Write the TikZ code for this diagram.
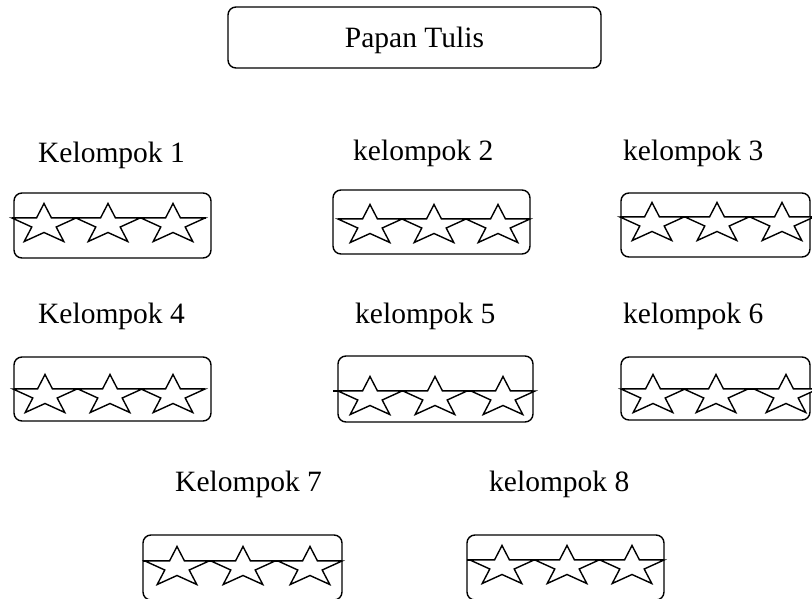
\documentclass[tikz,border=0pt]{standalone}
\usepackage{fontspec}
\setmainfont{Liberation Serif}
\begin{document}
\begin{tikzpicture}[x=1pt,y=-1pt,
  gbox/.style={draw, line width=1.4pt, rounded corners=8pt, inner sep=0pt, outer sep=0pt},
  grouplabel/.style={anchor=base west, inner sep=0pt, font=\fontsize{29.5pt}{32pt}\selectfont},
  starline/.style={line width=1.4pt, line join=miter},
  starpic/.pic={\filldraw[starline, fill=white] (0,-14.5) -- (7.5,0) -- (32,0) -- (12.2,9) -- (19.8,23.5)
      -- (0,14.5) -- (-19.8,23.5) -- (-12.2,9) -- (-32,0) -- (-7.5,0) -- cycle;}]
\useasboundingbox (0,0) rectangle (812,598);
\clip (0,0) rectangle (812,598);

% box: name, left, top, right, bottom
\newcommand\groupbox[5]{%
  \node[gbox, minimum width={#4pt-#2pt}, minimum height={#5pt-#3pt}] (#1) at ({(#2+#4)/2},{(#3+#5)/2}) {};}
% row of three stars on a line: line y, left end, right end, three centres
\newcommand\starrow[6]{%
  \draw[starline] (#2,#1) -- (#3,#1);
  \pic at (#4,#1) {starpic};
  \pic at (#5,#1) {starpic};
  \pic at (#6,#1) {starpic};}

% board
\node[gbox, minimum width=373pt, minimum height=61pt, text depth=0pt,
      font=\fontsize{29.5pt}{32pt}\selectfont] (papan) at (414.5,37.5) {Papan Tulis};

% row 1
\node[grouplabel] (l1) at (38,162) {Kelompok 1};
\node[grouplabel] (l2) at (353,160) {kelompok 2};
\node[grouplabel] (l3) at (623,160) {kelompok 3};
\groupbox{b1}{14}{193}{211}{258}
\groupbox{b2}{333}{190}{530}{254}
\groupbox{b3}{621}{193}{810}{257}
\starrow{218}{12}{206}{44}{108}{173}
\starrow{219}{338}{530}{370}{434}{498}
\starrow{217}{620}{812}{652}{717}{782}

% row 2
\node[grouplabel] (l4) at (38,323) {Kelompok 4};
\node[grouplabel] (l5) at (355,323) {kelompok 5};
\node[grouplabel] (l6) at (623,323) {kelompok 6};
\groupbox{b4}{14}{357}{211}{421}
\groupbox{b5}{338}{356}{533}{422}
\groupbox{b6}{621}{357}{810}{420}
\starrow{389}{14}{205}{45}{110}{173}
\starrow{391}{333}{533}{370}{435}{503}
\starrow{389}{622}{812}{653}{716}{786}

% row 3
\node[grouplabel] (l7) at (175,491) {Kelompok 7};
\node[grouplabel] (l8) at (489,491) {kelompok 8};
\groupbox{b7}{143}{535}{342}{600}
\groupbox{b8}{467}{535}{664}{600}
\starrow{561}{143}{342}{177}{243}{310}
\starrow{560}{467}{664}{502}{567}{632}
\end{tikzpicture}
\end{document}
